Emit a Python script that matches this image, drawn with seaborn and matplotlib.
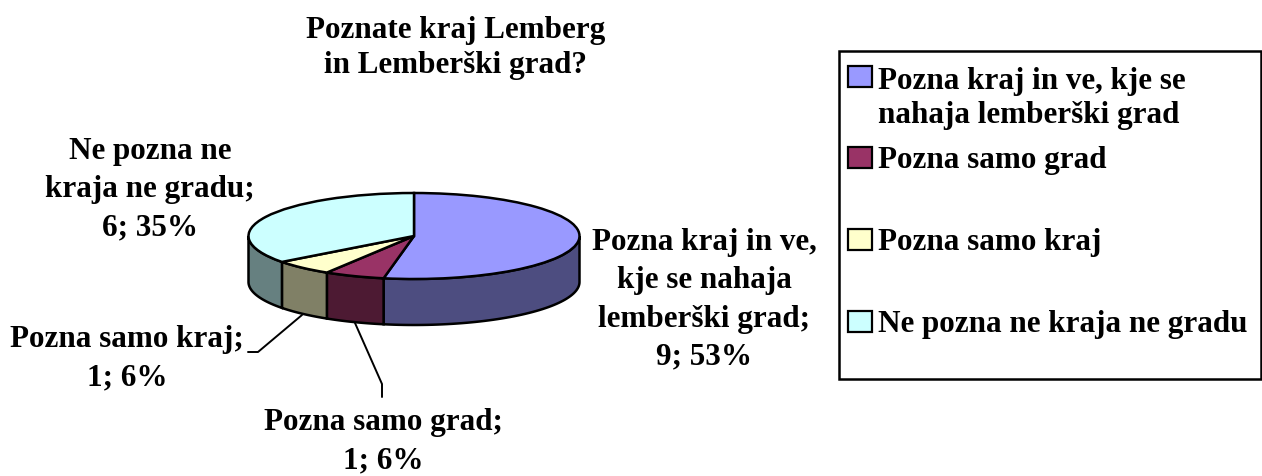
import numpy as np
import seaborn as sns
from matplotlib import pyplot as plt
from matplotlib.patches import Rectangle

categories = ['Pozna kraj in ve, kje se\nnahaja lemberški grad', 'Pozna samo grad',
              'Pozna samo kraj', 'Ne pozna ne kraja ne gradu']
counts = [9, 1, 1, 6]
percents = [53, 6, 6, 35]
slice_labels = ['Pozna kraj in ve,\nkje se nahaja\nlemberški grad;', 'Pozna samo grad;',
                'Pozna samo kraj;', 'Ne pozna ne\nkraja ne gradu;']
title = 'Poznate kraj Lemberg\nin Lemberški grad?'
colors = ['#9999FF', '#993366', '#FFFFCC', '#CCFFFF']

W, H = 1262, 477
FONT = 'Liberation Serif'
FONT_SIZE = 22.4

sns.set_theme(style='white')
plt.rcParams['font.family'] = [FONT, 'DejaVu Sans']
palette = sns.color_palette(colors)

fig = plt.figure(figsize=(W / 100, H / 100), dpi=100, facecolor='white')

# pie axes covers the whole figure, unit circle squashed into the ellipse
cx, cy, rx, ry, depth = 414, 237, 165.5, 43, 46
ax = fig.add_axes([0, 0, 1, 1])
wedges, _ = ax.pie(counts, colors=palette, startangle=90, counterclock=False, radius=1,
                   wedgeprops={'edgecolor': 'black', 'linewidth': 1.8})
for w in wedges:
    w.set_zorder(3)

# side walls of the slices, only the front half is visible
fractions = np.cumsum([0] + counts) / sum(counts)
for i, color in enumerate(palette):
    start, stop = 90 - 360 * fractions[i], 90 - 360 * fractions[i + 1]
    # front half of the ellipse is -180..0 degrees
    t_hi, t_lo = min(start, 0), max(stop, -180)
    if t_hi <= t_lo:
        continue
    t = np.radians(np.linspace(t_hi, t_lo, 60))
    xs = np.cos(t)
    ys = np.sin(t)
    ax.fill(np.r_[xs, xs[::-1]], np.r_[ys, ys[::-1] - depth / ry],
            facecolor=tuple(c * 0.5 for c in color), edgecolor='black', linewidth=1.8, zorder=2)

ax.set_aspect('auto')
ax.set_xlim(-cx / rx, (W - cx) / rx)
ax.set_ylim((cy - H) / ry, cy / ry)
ax.axis('off')

# overlay in pixel coordinates for the text and the legend
ov = fig.add_axes([0, 0, 1, 1], facecolor='none')
ov.set_xlim(0, W)
ov.set_ylim(H, 0)
ov.axis('off')
text_style = dict(fontsize=FONT_SIZE, fontweight='bold', color='black')

ov.text(456, 48, title, ha='center', va='center', linespacing=1.24, **text_style)

# bottom label sits a little higher so it stays inside the figure
label_pos = [(704, 300), (383, 442), (127, 359), (150, 190)]
for name, n, p, (x, y) in zip(slice_labels, counts, percents, label_pos):
    ov.text(x, y, f'{name}\n{n}; {p}%', ha='center', va='center', linespacing=1.42, **text_style)

# leader lines
ov.plot([355, 382, 382], [324, 385, 398], color='black', lw=1.4)
ov.plot([302, 258, 248], [316, 353, 353], color='black', lw=1.4)

# legend
ov.add_patch(Rectangle((839, 52), 422, 328, facecolor='white', edgecolor='black', lw=1.8))
legend_y = [77.5, 158.5, 240, 322]
legend_base = [123, 168, 250, 332]
for name, color, y, b in zip(categories, palette, legend_y, legend_base):
    ov.add_patch(Rectangle((848, y - 10.5), 24, 21, facecolor=color, edgecolor='black', lw=1.6))
    ov.text(878, b, name, ha='left', va='baseline', linespacing=1.24, **text_style)

fig.savefig('out.png', dpi=100, facecolor='white')
